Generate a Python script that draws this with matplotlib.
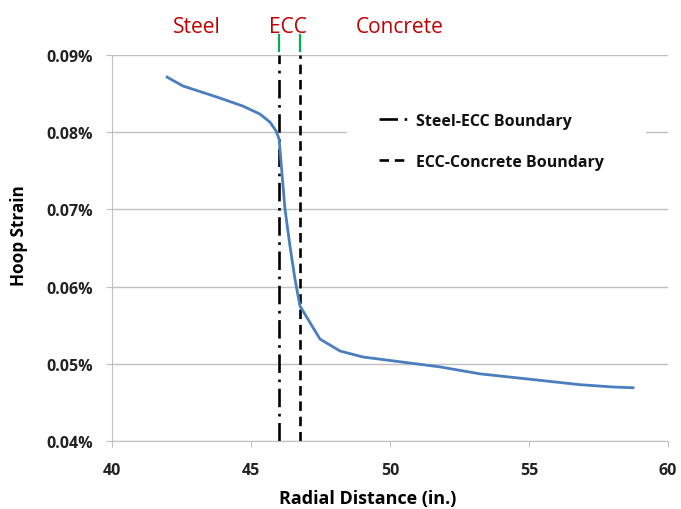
import matplotlib
matplotlib.use("Agg")
import matplotlib.pyplot as plt
from matplotlib.patches import Rectangle

radial = [41.98, 42.55, 43.78, 44.71, 45.32, 45.68, 45.90, 46.01, 46.10, 46.22, 46.40, 46.58, 46.76,
          47.48, 48.20, 49.03, 49.64, 51.80, 53.24, 55.04, 56.83, 58.02, 58.74]
strain = [0.08715, 0.0860, 0.08456, 0.08339, 0.08236, 0.08132, 0.08016, 0.07912, 0.0752, 0.0701, 0.06526, 0.06098, 0.05749,
          0.05321, 0.05166, 0.05088, 0.0506, 0.0496, 0.0487, 0.0480, 0.0473, 0.0470, 0.0469]
steel_ecc = 46.0
ecc_concrete = 46.76
yticks = [0.04, 0.05, 0.06, 0.07, 0.08, 0.09]
xticks = [40, 45, 50, 55, 60]
regions = [("Steel", 43.06), ("ECC", 46.33), ("Concrete", 50.36)]

plt.rcParams['font.family'] = ['Open Sans', 'DejaVu Sans']

fig = plt.figure(figsize=(6.81, 5.10), dpi=100)
ax = fig.add_axes([0.1645, 0.1333, 0.8165, 0.7567])

ax.set_xlim(40, 60)
ax.set_ylim(0.04, 0.09)
ax.set_yticks(yticks)
ax.set_xticks(xticks)
ax.set_yticklabels([f"{v:.2f}%" for v in yticks], fontweight='bold', fontsize=11.5)
ax.set_xticklabels([str(v) for v in xticks], fontweight='bold', fontsize=11.5)
ax.grid(axis='y', color='#c0c0c0', linewidth=1)
ax.set_axisbelow(True)
for s in ['top', 'right']:
    ax.spines[s].set_visible(False)
for s in ['left', 'bottom']:
    ax.spines[s].set_color('#c0c0c0')
ax.tick_params(axis='both', colors='#c0c0c0', labelcolor='#222222', length=4, direction='out')
ax.tick_params(axis='y', pad=10)
ax.tick_params(axis='x', pad=11)

# white box behind legend (hides part of gridline, as in reference)
ax.add_patch(Rectangle((0.422, 0.66), 0.538, 0.24, transform=ax.transAxes,
                       facecolor='white', edgecolor='none', zorder=1.5))

ax.plot(radial, strain, color='#4a7ebf', linewidth=2, zorder=3)
l1 = ax.axvline(steel_ecc, color='black', linewidth=1.9, linestyle=(0, (7, 2.5, 1, 2.5)), label='Steel-ECC Boundary', zorder=2)
l2 = ax.axvline(ecc_concrete, color='black', linewidth=1.9, linestyle=(0, (3.6, 2.2)), label='ECC-Concrete Boundary', zorder=2)

leg = ax.legend(handles=[l1, l2], loc='upper left', bbox_to_anchor=(0.457, 0.884), frameon=False,
                fontsize=11.5, handlelength=1.85, handletextpad=0.5, labelspacing=1.56, borderpad=0.3)
for t in leg.get_texts():
    t.set_fontweight('bold')
    t.set_color('#111111')

ax.set_xlabel("Radial Distance (in.)", fontweight='bold', fontsize=13)
ax.xaxis.set_label_coords(0.459, -0.124)
ax.set_ylabel("Hoop Strain", fontweight='bold', fontsize=12.3)
ax.yaxis.set_label_coords(-0.151, 0.536)

for name, xv in regions:
    ax.text(xv, 1.0596, name, transform=ax.get_xaxis_transform(), color='#c00000',
            fontsize=15, ha='center', va='baseline', clip_on=False)
for xv in [steel_ecc, ecc_concrete]:
    ax.plot([xv, xv], [1.0104, 1.0518], transform=ax.get_xaxis_transform(), color='#00b050',
            linewidth=1.6, clip_on=False)

fig.savefig("out.png", dpi=100)
